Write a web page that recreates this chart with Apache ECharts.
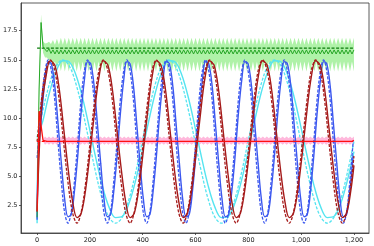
<!DOCTYPE html>
<html><head><meta charset="utf-8">
<script src="https://cdn.jsdelivr.net/npm/echarts@6/dist/echarts.min.js"></script>
<style>html,body{margin:0;padding:0;background:#fff}#c{width:374px;height:246px}</style>
</head><body><div id="c"></div>
<script>
// tick labels
const xTicks = [0, 200, 400, 600, 800, 1000, 1200];
const yTicks = [2.5, 5, 7.5, 10, 12.5, 15, 17.5];

// reference (dashed) set-points
const refX = [0, 1200];
const greenRef = [16, 16];
const redRef = [8, 8];

// blue sinusoid
const blueX = [0, 5, 17, 30,
42, 54, 67, 79, 92, 104, 117, 129, 141, 154, 166, 179,
191, 203, 216, 228, 241, 253, 266, 278, 290, 303, 315, 328,
340, 352, 365, 377, 390, 402, 415, 427, 439, 452, 464, 477,
489, 501, 514, 526, 539, 551, 564, 576, 588, 601, 613, 626,
638, 650, 663, 675, 688, 700, 713, 725, 737, 750, 762, 775,
787, 799, 812, 824, 837, 849, 862, 874, 886, 899, 911, 924,
936, 948, 961, 973, 986, 998, 1011, 1023, 1035, 1048, 1060, 1073,
1085, 1097, 1110, 1122, 1135, 1147, 1160, 1172, 1184, 1197];
const blueDashed = [6.6, 8, 11.5, 14.06,
15, 14.06, 11.5, 8, 4.5, 1.94, 1, 1.94, 4.5, 8, 11.5, 14.06,
15, 14.06, 11.5, 8, 4.5, 1.94, 1, 1.94, 4.5, 8, 11.5, 14.06,
15, 14.06, 11.5, 8, 4.5, 1.94, 1, 1.94, 4.5, 8, 11.5, 14.06,
15, 14.06, 11.5, 8, 4.5, 1.94, 1, 1.94, 4.5, 8, 11.5, 14.06,
15, 14.06, 11.5, 8, 4.5, 1.94, 1, 1.94, 4.5, 8, 11.5, 14.06,
15, 14.06, 11.5, 8, 4.5, 1.94, 1, 1.94, 4.5, 8, 11.5, 14.06,
15, 14.06, 11.5, 8, 4.5, 1.94, 1, 1.94, 4.5, 8, 11.5, 14.06,
15, 14.06, 11.5, 8, 4.5, 1.94, 1, 1.94, 4.5, 8];
const blueSolid = [1.3, 6.79, 10.3, 13.25,
14.85, 14.67, 12.75, 9.61, 6.1, 3.15, 1.55, 1.73, 3.65, 6.79, 10.3, 13.25,
14.85, 14.67, 12.75, 9.61, 6.1, 3.15, 1.55, 1.73, 3.65, 6.79, 10.3, 13.25,
14.85, 14.67, 12.75, 9.61, 6.1, 3.15, 1.55, 1.73, 3.65, 6.79, 10.3, 13.25,
14.85, 14.67, 12.75, 9.61, 6.1, 3.15, 1.55, 1.73, 3.65, 6.79, 10.3, 13.25,
14.85, 14.67, 12.75, 9.61, 6.1, 3.15, 1.55, 1.73, 3.65, 6.79, 10.3, 13.25,
14.85, 14.67, 12.75, 9.61, 6.1, 3.15, 1.55, 1.73, 3.65, 6.79, 10.3, 13.25,
14.85, 14.67, 12.75, 9.61, 6.1, 3.15, 1.55, 1.73, 3.65, 6.79, 10.3, 13.25,
14.85, 14.67, 12.75, 9.61, 6.1, 3.15, 1.55, 1.73, 3.65, 6.79];

// dark red sinusoid
const darkX = [0, 16, 33,
50, 67, 84, 100, 117, 134, 151, 167, 184, 201, 218, 234,
251, 268, 285, 301, 318, 335, 352, 368, 385, 402, 419, 435,
452, 469, 486, 502, 519, 536, 553, 569, 586, 603, 620, 636,
653, 670, 687, 703, 720, 737, 754, 770, 787, 804, 821, 837,
854, 871, 888, 904, 921, 938, 955, 971, 988, 1005, 1022, 1038,
1055, 1072, 1089, 1105, 1122, 1139, 1156, 1172, 1189, 1200];
const darkDashed = [8, 11.5, 14.06,
15, 14.06, 11.5, 8, 4.5, 1.94, 1, 1.94, 4.5, 8, 11.5, 14.06,
15, 14.06, 11.5, 8, 4.5, 1.94, 1, 1.94, 4.5, 8, 11.5, 14.06,
15, 14.06, 11.5, 8, 4.5, 1.94, 1, 1.94, 4.5, 8, 11.5, 14.06,
15, 14.06, 11.5, 8, 4.5, 1.94, 1, 1.94, 4.5, 8, 11.5, 14.06,
15, 14.06, 11.5, 8, 4.5, 1.94, 1, 1.94, 4.5, 8, 11.5, 14.06,
15, 14.06, 11.5, 8, 4.5, 1.94, 1, 1.94, 4.5, 6.75];
const darkSolid = [2.0, 10.63, 13.48,
14.92, 14.55, 12.48, 9.26, 5.77, 2.92, 1.48, 1.85, 3.92, 7.14, 10.63, 13.48,
14.92, 14.55, 12.48, 9.26, 5.77, 2.92, 1.48, 1.85, 3.92, 7.14, 10.63, 13.48,
14.92, 14.55, 12.48, 9.26, 5.77, 2.92, 1.48, 1.85, 3.92, 7.14, 10.63, 13.48,
14.92, 14.55, 12.48, 9.26, 5.77, 2.92, 1.48, 1.85, 3.92, 7.14, 10.63, 13.48,
14.92, 14.55, 12.48, 9.26, 5.77, 2.92, 1.48, 1.85, 3.92, 7.14, 10.63, 13.48,
14.92, 14.55, 12.48, 9.26, 5.77, 2.92, 1.48, 1.85, 3.92, 5.95];

// cyan sinusoid
const cyanX = [0, 6, 22, 47, 72,
97, 122, 147, 172, 197, 222, 247, 272, 297, 323, 348, 373, 398, 423, 448, 473,
498, 523, 548, 573, 598, 623, 648, 673, 698, 724, 749, 774, 799, 824, 849, 874,
899, 924, 949, 974, 999, 1024, 1049, 1074, 1099, 1125, 1150, 1175, 1200];
const cyanDashed = [8.35, 9.0, 10.68, 12.95, 14.47,
15, 14.47, 12.95, 10.68, 8, 5.32, 3.05, 1.53, 1, 1.53, 3.05, 5.32, 8, 10.68, 12.95, 14.47,
15, 14.47, 12.95, 10.68, 8, 5.32, 3.05, 1.53, 1, 1.53, 3.05, 5.32, 8, 10.68, 12.95, 14.47,
15, 14.47, 12.95, 10.68, 8, 5.32, 3.05, 1.53, 1, 1.53, 3.05, 5.32, 8];
const cyanSolid = [1.0, 8.5, 9.78, 12.2, 14.0,
14.92, 14.81, 13.7, 11.75, 9.26, 6.62, 4.2, 2.4, 1.48, 1.59, 2.7, 4.65, 7.14, 9.78, 12.2, 14.0,
14.92, 14.81, 13.7, 11.75, 9.26, 6.62, 4.2, 2.4, 1.48, 1.59, 2.7, 4.65, 7.14, 9.78, 12.2, 14.0,
14.92, 14.81, 13.7, 11.75, 9.26, 6.62, 4.2, 2.4, 1.48, 1.59, 2.7, 4.65, 7.14];

// tracked outputs (green ~16, red ~8) and their spread bands
const noiseX = [0,7.5,15,22.5,30,37.5,45,52.5,
60,67.5,75,82.5,90,97.5,105,112.5,
120,127.5,135,142.5,150,157.5,165,172.5,
180,187.5,195,202.5,210,217.5,225,232.5,
240,247.5,255,262.5,270,277.5,285,292.5,
300,307.5,315,322.5,330,337.5,345,352.5,
360,367.5,375,382.5,390,397.5,405,412.5,
420,427.5,435,442.5,450,457.5,465,472.5,
480,487.5,495,502.5,510,517.5,525,532.5,
540,547.5,555,562.5,570,577.5,585,592.5,
600,607.5,615,622.5,630,637.5,645,652.5,
660,667.5,675,682.5,690,697.5,705,712.5,
720,727.5,735,742.5,750,757.5,765,772.5,
780,787.5,795,802.5,810,817.5,825,832.5,
840,847.5,855,862.5,870,877.5,885,892.5,
900,907.5,915,922.5,930,937.5,945,952.5,
960,967.5,975,982.5,990,997.5,1005,1012.5,
1020,1027.5,1035,1042.5,1050,1057.5,1065,1072.5,
1080,1087.5,1095,1102.5,1110,1117.5,1125,1132.5,
1140,1147.5,1155,1162.5,1170,1177.5,1185,1192.5,
1200];
const greenLine = [1.5,12.5,18.2,16.1,16.0,15.7,15.95,15.55,
15.85,15.5,15.85,15.5,15.85,15.5,15.85,15.5,
15.85,15.5,15.85,15.5,15.85,15.5,15.85,15.5,
15.85,15.5,15.85,15.5,15.85,15.5,15.85,15.5,
15.85,15.5,15.85,15.5,15.85,15.5,15.85,15.5,
15.85,15.5,15.85,15.5,15.85,15.5,15.85,15.5,
15.85,15.5,15.85,15.5,15.85,15.5,15.85,15.5,
15.85,15.5,15.85,15.5,15.85,15.5,15.85,15.5,
15.85,15.5,15.85,15.5,15.85,15.5,15.85,15.5,
15.85,15.5,15.85,15.5,15.85,15.5,15.85,15.5,
15.85,15.5,15.85,15.5,15.85,15.5,15.85,15.5,
15.85,15.5,15.85,15.5,15.85,15.5,15.85,15.5,
15.85,15.5,15.85,15.5,15.85,15.5,15.85,15.5,
15.85,15.5,15.85,15.5,15.85,15.5,15.85,15.5,
15.85,15.5,15.85,15.5,15.85,15.5,15.85,15.5,
15.85,15.5,15.85,15.5,15.85,15.5,15.85,15.5,
15.85,15.5,15.85,15.5,15.85,15.5,15.85,15.5,
15.85,15.5,15.85,15.5,15.85,15.5,15.85,15.5,
15.85,15.5,15.85,15.5,15.85,15.5,15.85,15.5,
15.85,15.5,15.85,15.5,15.85,15.5,15.85,15.5,
15.85];
const greenUpper = [1.8,13.6,18.9,16.6,16.4,16.45,16.55,16.35,
16.7,16.3,16.8,16.3,16.9,16.3,16.9,16.3,
16.9,16.3,16.9,16.3,16.9,16.3,16.9,16.3,
16.9,16.3,16.9,16.3,16.9,16.3,16.9,16.3,
16.9,16.3,16.9,16.3,16.9,16.3,16.9,16.3,
16.9,16.3,16.9,16.3,16.9,16.3,16.9,16.3,
16.9,16.3,16.9,16.3,16.9,16.3,16.9,16.3,
16.9,16.3,16.9,16.3,16.9,16.3,16.9,16.3,
16.9,16.3,16.9,16.3,16.9,16.3,16.9,16.3,
16.9,16.3,16.9,16.3,16.9,16.3,16.9,16.3,
16.9,16.3,16.9,16.3,16.9,16.3,16.9,16.3,
16.9,16.3,16.9,16.3,16.9,16.3,16.9,16.3,
16.9,16.3,16.9,16.3,16.9,16.3,16.9,16.3,
16.9,16.3,16.9,16.3,16.9,16.3,16.9,16.3,
16.9,16.3,16.9,16.3,16.9,16.3,16.9,16.3,
16.9,16.3,16.9,16.3,16.9,16.3,16.9,16.3,
16.9,16.3,16.9,16.3,16.9,16.3,16.9,16.3,
16.9,16.3,16.9,16.3,16.9,16.3,16.9,16.3,
16.9,16.3,16.9,16.3,16.9,16.3,16.9,16.3,
16.9,16.3,16.9,16.3,16.9,16.3,16.9,16.3,
16.9];
const greenLower = [1.2,11.5,17.5,15.6,15.2,15.2,14.9,15.05,
14.5,14.85,14.3,14.85,14.05,14.85,14.0,14.85,
14.0,14.85,14.0,14.85,14.0,14.85,14.0,14.85,
14.0,14.85,14.0,14.85,14.0,14.85,14.0,14.85,
14.0,14.85,14.0,14.85,14.0,14.85,14.0,14.85,
14.0,14.85,14.0,14.85,14.0,14.85,14.0,14.85,
14.0,14.85,14.0,14.85,14.0,14.85,14.0,14.85,
14.0,14.85,14.0,14.85,14.0,14.85,14.0,14.85,
14.0,14.85,14.0,14.85,14.0,14.85,14.0,14.85,
14.0,14.85,14.0,14.85,14.0,14.85,14.0,14.85,
14.0,14.85,14.0,14.85,14.0,14.85,14.0,14.85,
14.0,14.85,14.0,14.85,14.0,14.85,14.0,14.85,
14.0,14.85,14.0,14.85,14.0,14.85,14.0,14.85,
14.0,14.85,14.0,14.85,14.0,14.85,14.0,14.85,
14.0,14.85,14.0,14.85,14.0,14.85,14.0,14.85,
14.0,14.85,14.0,14.85,14.0,14.85,14.0,14.85,
14.0,14.85,14.0,14.85,14.0,14.85,14.0,14.85,
14.0,14.85,14.0,14.85,14.0,14.85,14.0,14.85,
14.0,14.85,14.0,14.85,14.0,14.85,14.0,14.85,
14.0,14.85,14.0,14.85,14.0,14.85,14.0,14.85,
14.0];
const redLine = [2.0,10.6,10.7,8.1,8.1,8.02,8.1,8.02,
8.1,8.02,8.1,8.02,8.1,8.02,8.1,8.02,
8.1,8.02,8.1,8.02,8.1,8.02,8.1,8.02,
8.1,8.02,8.1,8.02,8.1,8.02,8.1,8.02,
8.1,8.02,8.1,8.02,8.1,8.02,8.1,8.02,
8.1,8.02,8.1,8.02,8.1,8.02,8.1,8.02,
8.1,8.02,8.1,8.02,8.1,8.02,8.1,8.02,
8.1,8.02,8.1,8.02,8.1,8.02,8.1,8.02,
8.1,8.02,8.1,8.02,8.1,8.02,8.1,8.02,
8.1,8.02,8.1,8.02,8.1,8.02,8.1,8.02,
8.1,8.02,8.1,8.02,8.1,8.02,8.1,8.02,
8.1,8.02,8.1,8.02,8.1,8.02,8.1,8.02,
8.1,8.02,8.1,8.02,8.1,8.02,8.1,8.02,
8.1,8.02,8.1,8.02,8.1,8.02,8.1,8.02,
8.1,8.02,8.1,8.02,8.1,8.02,8.1,8.02,
8.1,8.02,8.1,8.02,8.1,8.02,8.1,8.02,
8.1,8.02,8.1,8.02,8.1,8.02,8.1,8.02,
8.1,8.02,8.1,8.02,8.1,8.02,8.1,8.02,
8.1,8.02,8.1,8.02,8.1,8.02,8.1,8.02,
8.1,8.02,8.1,8.02,8.1,8.02,8.1,8.02,
8.1];
const redUpper = [2.0,10.6,10.7,8.2,8.42,8.27,8.42,8.27,
8.42,8.27,8.42,8.27,8.42,8.27,8.42,8.27,
8.42,8.27,8.42,8.27,8.42,8.27,8.42,8.27,
8.42,8.27,8.42,8.27,8.42,8.27,8.42,8.27,
8.42,8.27,8.42,8.27,8.42,8.27,8.42,8.27,
8.42,8.27,8.42,8.27,8.42,8.27,8.42,8.27,
8.42,8.27,8.42,8.27,8.42,8.27,8.42,8.27,
8.42,8.27,8.42,8.27,8.42,8.27,8.42,8.27,
8.42,8.27,8.42,8.27,8.42,8.27,8.42,8.27,
8.42,8.27,8.42,8.27,8.42,8.27,8.42,8.27,
8.42,8.27,8.42,8.27,8.42,8.27,8.42,8.27,
8.42,8.27,8.42,8.27,8.42,8.27,8.42,8.27,
8.42,8.27,8.42,8.27,8.42,8.27,8.42,8.27,
8.42,8.27,8.42,8.27,8.42,8.27,8.42,8.27,
8.42,8.27,8.42,8.27,8.42,8.27,8.42,8.27,
8.42,8.27,8.42,8.27,8.42,8.27,8.42,8.27,
8.42,8.27,8.42,8.27,8.42,8.27,8.42,8.27,
8.42,8.27,8.42,8.27,8.42,8.27,8.42,8.27,
8.42,8.27,8.42,8.27,8.42,8.27,8.42,8.27,
8.42,8.27,8.42,8.27,8.42,8.27,8.42,8.27,
8.42];
const redLower = [2.0,10.6,10.7,8.0,7.72,7.88,7.72,7.88,
7.72,7.88,7.72,7.88,7.72,7.88,7.72,7.88,
7.72,7.88,7.72,7.88,7.72,7.88,7.72,7.88,
7.72,7.88,7.72,7.88,7.72,7.88,7.72,7.88,
7.72,7.88,7.72,7.88,7.72,7.88,7.72,7.88,
7.72,7.88,7.72,7.88,7.72,7.88,7.72,7.88,
7.72,7.88,7.72,7.88,7.72,7.88,7.72,7.88,
7.72,7.88,7.72,7.88,7.72,7.88,7.72,7.88,
7.72,7.88,7.72,7.88,7.72,7.88,7.72,7.88,
7.72,7.88,7.72,7.88,7.72,7.88,7.72,7.88,
7.72,7.88,7.72,7.88,7.72,7.88,7.72,7.88,
7.72,7.88,7.72,7.88,7.72,7.88,7.72,7.88,
7.72,7.88,7.72,7.88,7.72,7.88,7.72,7.88,
7.72,7.88,7.72,7.88,7.72,7.88,7.72,7.88,
7.72,7.88,7.72,7.88,7.72,7.88,7.72,7.88,
7.72,7.88,7.72,7.88,7.72,7.88,7.72,7.88,
7.72,7.88,7.72,7.88,7.72,7.88,7.72,7.88,
7.72,7.88,7.72,7.88,7.72,7.88,7.72,7.88,
7.72,7.88,7.72,7.88,7.72,7.88,7.72,7.88,
7.72,7.88,7.72,7.88,7.72,7.88,7.72,7.88,
7.72];

function pairs(xs, ys) {
  const out = [];
  const n = Math.min(xs.length, ys.length);
  for (let i = 0; i < n; i++) out.push([xs[i], ys[i]]);
  return out;
}
function line(xs, ys, color, width, dashed, smooth) {
  return {
    type: 'line', data: pairs(xs, ys), symbol: 'none', smooth: smooth ? 0.35 : false,
    lineStyle: { color: color, width: width, type: dashed ? [3, 1.6] : 'solid', cap: 'butt' },
    emphasis: { disabled: true }, silent: true
  };
}
// filled band between lower and upper curves, positioned via the axes' own scales (api.coord)
function band(xs, lo, hi, color) {
  return {
    type: 'custom', silent: true, clip: true,
    data: [[xs[0], lo[0]]],
    encode: { x: 0, y: 1 },
    renderItem: function (params, api) {
      const pts = [];
      for (let i = 0; i < xs.length; i++) pts.push(api.coord([xs[i], hi[i]]));
      for (let i = xs.length - 1; i >= 0; i--) pts.push(api.coord([xs[i], lo[i]]));
      return { type: 'polygon', shape: { points: pts }, style: { fill: color } };
    }
  };
}

const BLUE = '#3b57ef', DARK = '#a51a1a', CYAN = '#55e4f0';
const series = [
  band(noiseX, greenLower, greenUpper, '#aff2a8'),
  band(noiseX, redLower, redUpper, '#ffb8dc'),
  line(cyanX, cyanDashed, CYAN, 1.3, true, true),
  line(cyanX, cyanSolid, CYAN, 1.4, false, true),
  line(blueX, blueDashed, BLUE, 1.3, true, true),
  line(blueX, blueSolid, BLUE, 1.4, false, true),
  line(darkX, darkDashed, DARK, 1.3, true, true),
  line(darkX, darkSolid, DARK, 1.4, false, true),
  line(refX, greenRef, '#0a7a0a', 1.1, true, false),
  line(noiseX, greenLine, '#26a626', 1.0, false, false),
  line(refX, redRef, '#ff0000', 1.1, true, false),
  line(noiseX, redLine, '#ff1010', 1.3, false, false)
];

const labelFont = { fontSize: 6.5, color: '#222', fontFamily: 'DejaVu Sans' };
const chart = echarts.init(document.getElementById('c'), null, { renderer: 'canvas' });
chart.setOption({
  animation: false,
  grid: { left: 21, right: 5, top: 3, bottom: 13, show: true, borderColor: '#333', borderWidth: 0.8, backgroundColor: 'transparent' },
  xAxis: {
    type: 'value', min: -61, max: 1257, z: 10,
    splitLine: { show: false },
    axisLine: { show: true, onZero: false, lineStyle: { color: '#333', width: 0.8 } },
    axisTick: { show: true, length: 2, customValues: xTicks, lineStyle: { color: '#333', width: 0.8 } },
    axisLabel: Object.assign({ customValues: xTicks, margin: 3.5 }, labelFont)
  },
  yAxis: {
    type: 'value', min: 0.16, max: 19.87, z: 10,
    splitLine: { show: false },
    axisLine: { show: true, onZero: false, lineStyle: { color: '#333', width: 0.8 } },
    axisTick: { show: true, length: 2, customValues: yTicks, lineStyle: { color: '#333', width: 0.8 } },
    axisLabel: Object.assign({ customValues: yTicks, margin: 3.5, formatter: v => v.toFixed(1) }, labelFont)
  },
  series: series
});
</script>
</body></html>
